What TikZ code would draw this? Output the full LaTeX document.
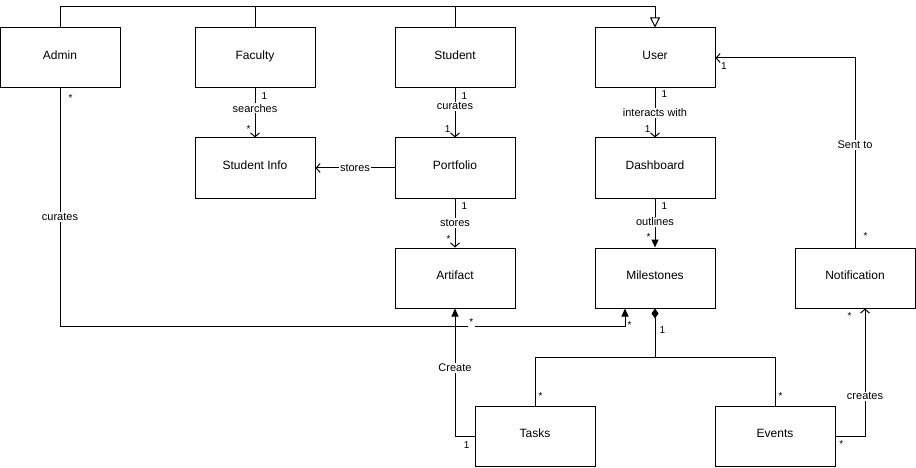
\documentclass[tikz,border=0pt]{standalone}
\usepackage{fontspec}
\setmainfont{Liberation Sans}
\usetikzlibrary{arrows.meta}

\tikzset{
  cls/.style={draw, minimum width=120pt, minimum height=60pt, inner sep=0pt,
    text height=9pt, text depth=6pt, font=\fontsize{12}{14}\selectfont},
  lbl/.style={fill=white, inner sep=1pt, font=\fontsize{11}{13}\selectfont},
  mult/.style={inner sep=1pt, font=\fontsize{10}{12}\selectfont},
  assoc/.style={-{Straight Barb[length=4pt,width=9pt]}},
  nav/.style={-{Triangle[length=8pt,width=7pt]}},
  gen/.style={-{Triangle[open,length=10pt,width=10pt,fill=white]}},
  comp/.style={{Diamond[length=10pt,width=7pt]}-}
}

\begin{document}
\begin{tikzpicture}[x=1pt, y=-1pt, line width=1pt]
  \useasboundingbox (0,0) rectangle (916,468);

  % classes
  \node[cls] (admin)        at (60,58)   {Admin};
  \node[cls] (faculty)      at (255,58)  {Faculty};
  \node[cls] (student)      at (455,58)  {Student};
  \node[cls] (user)         at (655,58)  {User};
  \node[cls] (info)         at (255,168) {Student Info};
  \node[cls] (portfolio)    at (455,168) {Portfolio};
  \node[cls] (dashboard)    at (655,168) {Dashboard};
  \node[cls] (artifact)     at (455,278) {Artifact};
  \node[cls] (milestones)   at (655,278) {Milestones};
  \node[cls] (notification) at (855,278) {Notification};
  \node[cls] (tasks)        at (535,436) {Tasks};
  \node[cls] (events)       at (775,436) {Events};

  % generalization
  \draw[gen] (admin.north) -- ++(0,-21) -| (user.north);
  \draw (faculty.north) -- ++(0,-21);
  \draw (student.north) -- ++(0,-21);

  % associations
  \draw[assoc] (faculty) -- node[lbl,pos=.4]{searches}
    node[mult,pos=.15,right=5pt]{1} node[mult,pos=.82,left=3pt]{*} (info);
  \draw[assoc] (student) -- node[lbl,pos=.36]{curates}
    node[mult,pos=.15,right=5pt]{1} node[mult,pos=.82,left=3pt]{1} (portfolio);
  \draw[assoc] (portfolio) -- node[lbl]{stores} (info);
  \draw[assoc] (portfolio) -- node[lbl,pos=.5]{stores}
    node[mult,pos=.15,right=5pt]{1} node[mult,pos=.82,left=3pt]{*} (artifact);
  \draw[assoc] (user) -- node[lbl,pos=.5]{interacts with}
    node[mult,pos=.12,right=5pt]{1} node[mult,pos=.82,left=3pt]{1} (dashboard);
  \draw[nav] (dashboard) -- node[lbl,pos=.48]{outlines}
    node[mult,pos=.15,right=5pt]{1} node[mult,pos=.78,left=3pt]{*} (milestones);
  \draw[assoc] (notification.north) |- node[lbl,pos=.27]{Sent to}
    node[mult,pos=.03,right=7pt]{*} node[mult,pos=.97,below=3pt]{1} (user.east);
  \draw[nav] (admin.south) |- node[lbl,pos=.27]{curates}
    node[mult,pos=.02,right=7pt]{*}
    node[mult,fill=white,inner sep=1.5pt,yshift=4pt,pos=.864]{*}
    ([xshift=-30pt,yshift=-18pt]milestones.south)
    -- node[mult,pos=.1,right=1pt]{*} ([xshift=-30pt]milestones.south);
  \draw[nav] (tasks.west) -| node[lbl,pos=.766]{Create}
    node[mult,pos=.2,below=4pt]{1} (artifact.south);
  \draw[assoc] (events.east) -| node[lbl,pos=.656]{creates}
    node[mult,pos=.1,below=3pt]{*} node[mult,pos=.97,left=12pt]{*}
    ([xshift=10pt]notification.south);

  % composition
  \draw[comp] (milestones.south) -- node[mult,pos=.45,right=3pt]{1}
    ++(0,49) coordinate (fork) -| node[mult,pos=.9,right=2pt]{*} (tasks.north);
  \draw (fork) -| node[mult,pos=.9,right=2pt]{*} (events.north);
\end{tikzpicture}
\end{document}
